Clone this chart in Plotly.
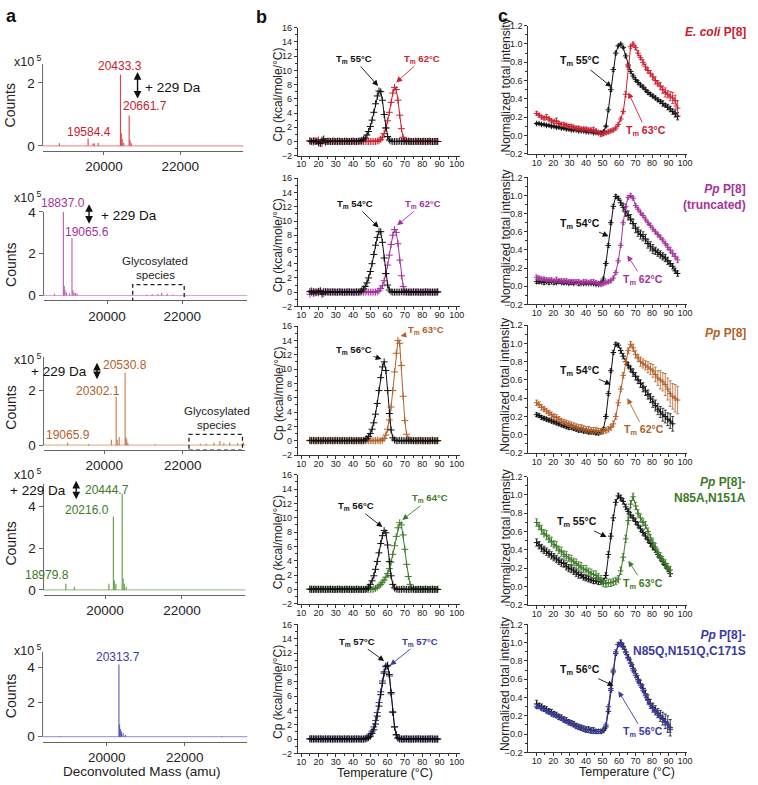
import plotly.graph_objects as go

W, H = 758, 785
FONT = "Liberation Sans, Arial, sans-serif"

# ---------------- panel a : deconvoluted mass spectra (counts x 1e5) ----------------
A_WINDOW = [18200, 23800]            # acquired mass window (baseline)
A1_MASS = [18830, 19584.4, 19715, 19745, 19850, 20433.3, 20455, 20480, 20520, 20661.7, 20685, 20720]
A1_CNT = [0.08, 0.23, 0.07, 0.08, 0.09, 2.26, 0.40, 0.22, 0.10, 0.96, 0.18, 0.08]
A2_MASS = [18600, 18837.0, 18860, 18880, 18920, 19000, 19065.6, 19090, 19120, 19160, 19200,
           21050, 21200, 21350, 21450, 21600, 21750]
A2_CNT = [0.08, 4.0, 0.45, 0.25, 0.15, 0.10, 2.75, 0.25, 0.15, 0.12, 0.08,
          0.05, 0.06, 0.07, 0.12, 0.08, 0.05]
A3_MASS = [19065.9, 19600, 20180, 20302.1, 20330, 20380, 20530.8, 20550, 20570, 20600, 21300,
           22450, 22600, 22800, 22950, 23050, 23200, 23400, 23550]
A3_CNT = [0.10, 0.04, 0.20, 1.76, 0.20, 0.30, 2.63, 0.30, 0.22, 0.10, 0.03,
          0.05, 0.06, 0.10, 0.15, 0.08, 0.10, 0.08, 0.10]
A4_MASS = [18979.8, 19200, 20100, 20216.0, 20240, 20280, 20444.7, 20470, 20500, 20550]
A4_CNT = [0.30, 0.15, 0.30, 3.50, 0.45, 0.30, 4.60, 0.55, 0.30, 0.15]
A5_MASS = [18800, 20313.7, 20330, 20350, 20380, 20420, 20480, 22950]
A5_CNT = [0.03, 4.19, 0.70, 0.45, 0.30, 0.20, 0.10, 0.04]
GLYCO2 = [20680, 22050]
GLYCO3 = [22160, 23525]

# ---------------- panel b : DSC (Cp, kcal/mole/°C) ----------------
TB = [15, 16, 17, 18, 19, 20, 21, 22, 23, 24, 25, 26, 27, 28, 29, 30, 31, 32, 33, 34,
      35, 36, 37, 38, 39, 40, 41, 42, 43, 44, 45, 46, 47, 48, 49, 50, 51, 52, 53, 54,
      55, 56, 57, 58, 59, 60, 61, 62, 63, 64, 65, 66, 67, 68, 69, 70, 71, 72, 73, 74,
      75, 76, 77, 78, 79, 80, 81, 82, 83, 84, 85, 86, 87, 88, 89]
B1_BLACK = [0.05, 0.00, 0.10, 0.00, 0.05, -0.20, -0.30, 0.20, 0.35, -0.10,
            0.00, 0.05, 0.00, 0.00, 0.05, 0.00, 0.00, 0.05, 0.00, 0.00,
            0.00, 0.05, 0.00, 0.00, 0.00, 0.05, 0.00, 0.00, 0.05, 0.05,
            0.10, 0.30, 0.50, 0.90, 1.40, 2.10, 3.00, 4.10, 5.30, 6.40,
            7.10, 7.00, 5.80, 3.80, 1.90, 0.70, 0.20, 0.05, 0.00, 0.00,
            0.00, 0.00, 0.05, 0.00, 0.00, 0.00, 0.00, 0.05, 0.00, 0.00,
            0.00, 0.00, 0.00, 0.05, 0.00, 0.00, 0.00, 0.00, 0.00, 0.05,
            0.00, 0.00, 0.00, 0.00, 0.00]
B1_COL = [0.10, 0.00, -0.10, 0.10, 0.00, 0.20, -0.20, -0.30, 0.10, 0.00,
          0.05, 0.00, 0.00, 0.05, 0.00, 0.00, 0.05, 0.00, 0.00, 0.00,
          0.05, 0.00, 0.00, 0.00, 0.05, 0.00, 0.00, 0.00, 0.00, 0.05,
          0.00, 0.00, 0.00, 0.00, 0.00, 0.00, 0.00, 0.00, 0.00, 0.05,
          0.10, 0.30, 0.60, 1.10, 1.90, 2.90, 4.10, 5.50, 6.80, 7.60,
          7.30, 5.80, 3.70, 1.80, 0.60, 0.15, 0.05, 0.00, 0.00, 0.00,
          0.00, 0.05, 0.00, 0.00, 0.00, 0.00, 0.05, 0.00, 0.00, 0.00,
          0.00, 0.00, 0.00, 0.00, 0.00]
B2_BLACK = [0.10, 0.00, 0.05, -0.10, 0.00, 0.10, 0.20, -0.30, 0.10, 0.00,
            0.05, 0.00, 0.00, 0.05, 0.00, 0.00, 0.00, 0.05, 0.00, 0.00,
            0.00, 0.00, 0.05, 0.00, 0.00, 0.00, 0.00, 0.05, 0.00, 0.05,
            0.20, 0.45, 0.80, 1.30, 2.00, 2.90, 4.00, 5.30, 6.60, 7.70,
            8.50, 8.50, 7.00, 4.80, 2.60, 1.00, 0.30, 0.05, 0.00, 0.00,
            0.00, 0.00, 0.00, 0.05, 0.00, 0.00, 0.00, 0.00, 0.00, 0.00,
            0.05, 0.00, 0.00, 0.00, 0.00, 0.00, 0.00, 0.05, 0.00, 0.00,
            0.00, 0.00, 0.00, 0.00, 0.05]
B2_COL = [-0.30, 0.20, -0.20, 0.10, 0.00, -0.10, 0.10, 0.00, -0.20, 0.10,
          0.00, 0.05, 0.00, 0.00, 0.05, 0.00, 0.00, 0.00, 0.05, 0.00,
          0.00, 0.00, 0.00, 0.05, 0.00, 0.00, 0.00, 0.00, 0.00, 0.00,
          0.00, 0.00, 0.00, 0.05, 0.00, 0.00, 0.00, 0.00, 0.00, 0.05,
          0.20, 0.50, 0.90, 1.60, 2.60, 3.80, 5.20, 6.70, 8.00, 8.80,
          8.40, 6.80, 4.50, 2.30, 0.80, 0.20, 0.05, 0.00, 0.00, 0.00,
          0.00, 0.00, 0.05, 0.00, 0.00, 0.00, 0.00, 0.00, 0.05, 0.00,
          0.00, 0.00, 0.00, 0.00, 0.00]
B3_BLACK = [0.05, 0.00, 0.05, 0.00, 0.00, 0.05, 0.00, 0.00, 0.05, 0.00,
            0.00, 0.05, 0.00, 0.00, 0.00, 0.05, 0.00, 0.00, 0.00, 0.05,
            0.00, 0.00, 0.00, 0.05, 0.00, 0.00, 0.00, 0.00, 0.05, 0.00,
            0.00, 0.00, 0.10, 0.30, 0.60, 1.00, 1.60, 2.50, 3.70, 5.20,
            7.00, 8.80, 10.30, 11.00, 9.80, 7.00, 3.80, 1.50, 0.40, 0.10,
            0.00, 0.00, 0.05, 0.00, 0.00, 0.00, 0.00, 0.00, 0.05, 0.00,
            0.00, 0.00, 0.00, 0.00, 0.05, 0.00, 0.00, 0.00, 0.00, 0.00,
            0.00, 0.05, 0.00, 0.00, 0.00]
B3_COL = [0.00, 0.05, 0.00, 0.00, 0.05, 0.00, 0.00, 0.00, 0.05, 0.00,
          0.00, 0.00, 0.05, 0.00, 0.00, 0.00, 0.00, 0.05, 0.00, 0.00,
          0.00, 0.00, 0.00, 0.00, 0.05, 0.00, 0.00, 0.00, 0.00, 0.00,
          0.00, 0.00, 0.00, 0.00, 0.00, 0.00, 0.00, 0.00, 0.00, 0.05,
          0.00, 0.00, 0.10, 0.30, 0.80, 1.60, 2.90, 4.70, 7.00, 9.60,
          12.20, 14.00, 13.60, 10.50, 6.20, 2.80, 0.90, 0.20, 0.05, 0.00,
          0.00, 0.00, 0.00, 0.05, 0.00, 0.00, 0.00, 0.00, 0.00, 0.00,
          0.05, 0.00, 0.00, 0.00, 0.00]
B4_BLACK = [0.05, 0.00, 0.00, 0.05, 0.00, 0.00, 0.00, 0.05, 0.00, 0.00,
            0.00, 0.00, 0.05, 0.00, 0.00, 0.00, 0.00, 0.05, 0.00, 0.00,
            0.00, 0.05, 0.00, 0.00, 0.00, 0.00, 0.00, 0.05, 0.00, 0.00,
            0.00, 0.00, 0.00, 0.10, 0.30, 0.70, 1.20, 1.90, 2.80, 3.90,
            5.10, 6.40, 7.50, 8.20, 7.90, 6.20, 3.90, 1.90, 0.70, 0.20,
            0.05, 0.00, 0.00, 0.00, 0.05, 0.00, 0.00, 0.00, 0.00, 0.00,
            0.05, 0.00, 0.00, 0.00, 0.00, 0.00, 0.00, 0.05, 0.00, 0.00,
            0.00, 0.00, 0.00, 0.00, 0.00]
B4_COL = [0.00, 0.05, 0.00, 0.00, 0.00, 0.05, 0.00, 0.00, 0.00, 0.00,
          0.05, 0.00, 0.00, 0.00, 0.00, 0.00, 0.05, 0.00, 0.00, 0.00,
          0.00, 0.00, 0.00, 0.05, 0.00, 0.00, 0.00, 0.00, 0.00, 0.00,
          0.00, 0.00, 0.00, 0.00, 0.00, 0.00, 0.00, 0.05, 0.15, 0.30,
          0.50, 0.70, 1.00, 1.30, 1.70, 2.20, 2.90, 3.80, 4.90, 6.10,
          7.40, 8.60, 9.30, 9.00, 7.60, 5.60, 3.50, 1.80, 0.70, 0.20,
          0.05, 0.00, 0.00, 0.00, 0.05, 0.00, 0.00, 0.00, 0.00, 0.00,
          0.00, 0.05, 0.00, 0.00, 0.00]
B5_BLACK = [0.05, 0.00, 0.00, 0.05, 0.00, 0.00, 0.05, 0.00, 0.00, 0.00,
            0.00, 0.05, 0.00, 0.00, 0.00, 0.00, 0.00, 0.05, 0.00, 0.00,
            0.00, 0.00, 0.05, 0.00, 0.00, 0.00, 0.00, 0.00, 0.05, 0.00,
            0.00, 0.00, 0.00, 0.10, 0.20, 0.40, 0.80, 1.30, 2.10, 3.20,
            4.60, 6.20, 7.80, 9.20, 10.10, 10.30, 9.00, 6.50, 3.80, 1.70,
            0.60, 0.15, 0.05, 0.00, 0.00, 0.00, 0.05, 0.00, 0.00, 0.00,
            0.00, 0.00, 0.00, 0.05, 0.00, 0.00, 0.00, 0.00, 0.00, 0.00,
            0.05, 0.00, 0.00, 0.00, 0.00]
B5_COL = [0.00, 0.05, 0.00, 0.00, 0.00, 0.05, 0.00, 0.00, 0.00, 0.05,
          0.00, 0.00, 0.00, 0.00, 0.05, 0.00, 0.00, 0.00, 0.00, 0.00,
          0.05, 0.00, 0.00, 0.00, 0.00, 0.00, 0.05, 0.00, 0.00, 0.00,
          0.00, 0.00, 0.10, 0.20, 0.40, 0.70, 1.10, 1.70, 2.60, 3.70,
          5.10, 6.60, 8.10, 9.40, 10.20, 10.20, 8.80, 6.30, 3.70, 1.70,
          0.60, 0.15, 0.00, 0.00, 0.00, 0.05, 0.00, 0.00, 0.00, 0.00,
          0.00, 0.00, 0.05, 0.00, 0.00, 0.00, 0.00, 0.00, 0.00, 0.05,
          0.00, 0.00, 0.00, 0.00, 0.00]

# ---------------- panel c : normalized total intensity ----------------
TC = [10, 11.5, 13, 14.5, 16, 17.5, 19, 20.5, 22, 23.5, 25, 26.5, 28, 29.5, 31, 32.5, 34, 35.5,
      37, 38.5, 40, 41.5, 43, 44.5, 46, 47.5, 49, 50.5, 52, 53.5, 55, 56.5, 58, 59.5, 61, 62.5,
      64, 65.5, 67, 68.5, 70, 71.5, 73, 74.5, 76, 77.5, 79, 80.5, 82, 83.5, 85, 86.5, 88, 89.5,
      91, 92.5, 94, 95.5]
C1_BLACK = [0.13, 0.13, 0.12, 0.12, 0.11, 0.11, 0.10, 0.10, 0.09, 0.09, 0.08, 0.08, 0.07, 0.07,
            0.06, 0.06, 0.06, 0.05, 0.05, 0.05, 0.04, 0.04, 0.04, 0.03, 0.03, 0.03, 0.03, 0.04,
            0.10, 0.28, 0.50, 0.72, 0.90, 0.98, 1.00, 0.96, 0.87, 0.77, 0.70, 0.65, 0.61, 0.58,
            0.55, 0.53, 0.50, 0.47, 0.45, 0.43, 0.41, 0.39, 0.37, 0.35, 0.33, 0.31, 0.29, 0.26,
            0.24, 0.21]
C1_BLACK_ERR = [0.01, 0.01, 0.01, 0.01, 0.01, 0.01, 0.01, 0.01, 0.01, 0.01, 0.01, 0.01, 0.01, 0.01,
                0.01, 0.01, 0.01, 0.01, 0.01, 0.01, 0.01, 0.01, 0.01, 0.01, 0.01, 0.01, 0.01, 0.01,
                0.01, 0.02, 0.02, 0.02, 0.02, 0.01, 0.01, 0.01, 0.02, 0.02, 0.02, 0.02, 0.02, 0.02,
                0.02, 0.02, 0.02, 0.02, 0.02, 0.02, 0.02, 0.02, 0.02, 0.03, 0.02, 0.03, 0.03, 0.03,
                0.04, 0.04]
C1_COL = [0.24, 0.22, 0.20, 0.19, 0.20, 0.18, 0.16, 0.15, 0.16, 0.13, 0.12, 0.12, 0.11, 0.10,
          0.10, 0.09, 0.08, 0.08, 0.07, 0.07, 0.07, 0.06, 0.06, 0.06, 0.05, 0.03, 0.01, 0.02,
          0.03, 0.04, 0.05, 0.06, 0.08, 0.12, 0.18, 0.26, 0.45, 0.75, 0.97, 1.00, 0.96, 0.90,
          0.85, 0.80, 0.75, 0.71, 0.68, 0.64, 0.60, 0.57, 0.54, 0.50, 0.47, 0.45, 0.43, 0.41,
          0.38, 0.30]
C1_COL_ERR = [0.02, 0.02, 0.02, 0.02, 0.03, 0.02, 0.02, 0.02, 0.03, 0.02, 0.02, 0.02, 0.02, 0.02,
              0.02, 0.02, 0.02, 0.02, 0.02, 0.02, 0.02, 0.02, 0.02, 0.03, 0.02, 0.02, 0.02, 0.02,
              0.02, 0.02, 0.02, 0.02, 0.02, 0.02, 0.02, 0.02, 0.03, 0.03, 0.02, 0.02, 0.02, 0.03,
              0.02, 0.03, 0.03, 0.03, 0.03, 0.03, 0.04, 0.03, 0.04, 0.04, 0.05, 0.04, 0.05, 0.06,
              0.06, 0.08]
C2_BLACK = [0.05, 0.05, 0.05, 0.04, 0.05, 0.04, 0.05, 0.04, 0.04, 0.05, 0.04, 0.04, 0.04, 0.03,
            0.04, 0.03, 0.04, 0.03, 0.03, 0.03, 0.03, 0.03, 0.03, 0.03, 0.02, 0.02, 0.04, 0.08,
            0.25, 0.45, 0.70, 0.88, 0.99, 0.97, 0.92, 0.87, 0.82, 0.78, 0.74, 0.69, 0.64, 0.60,
            0.57, 0.55, 0.52, 0.47, 0.44, 0.41, 0.39, 0.37, 0.35, 0.33, 0.31, 0.28, 0.25, 0.22,
            0.17, 0.14]
C2_BLACK_ERR = [0.02, 0.02, 0.01, 0.02, 0.01, 0.02, 0.01, 0.02, 0.01, 0.02, 0.01, 0.02, 0.01, 0.01,
                0.02, 0.01, 0.01, 0.02, 0.01, 0.01, 0.01, 0.01, 0.01, 0.01, 0.01, 0.01, 0.01, 0.02,
                0.02, 0.02, 0.02, 0.02, 0.02, 0.02, 0.03, 0.04, 0.05, 0.05, 0.05, 0.05, 0.05, 0.05,
                0.05, 0.05, 0.05, 0.05, 0.05, 0.05, 0.04, 0.04, 0.04, 0.04, 0.04, 0.04, 0.03, 0.03,
                0.03, 0.03]
C2_COL = [0.10, 0.09, 0.08, 0.08, 0.07, 0.07, 0.07, 0.06, 0.07, 0.06, 0.06, 0.06, 0.06, 0.05,
          0.05, 0.05, 0.05, 0.05, 0.04, 0.05, 0.05, 0.04, 0.05, 0.05, 0.04, 0.03, 0.02, 0.03,
          0.04, 0.05, 0.06, 0.09, 0.15, 0.28, 0.45, 0.70, 0.88, 0.98, 1.00, 0.97, 0.89, 0.85,
          0.81, 0.78, 0.74, 0.70, 0.67, 0.63, 0.60, 0.57, 0.54, 0.51, 0.47, 0.43, 0.40, 0.36,
          0.33, 0.29]
C2_COL_ERR = [0.02, 0.02, 0.02, 0.02, 0.02, 0.02, 0.02, 0.02, 0.03, 0.02, 0.02, 0.02, 0.02, 0.02,
              0.02, 0.02, 0.02, 0.02, 0.02, 0.02, 0.02, 0.02, 0.02, 0.02, 0.02, 0.02, 0.02, 0.02,
              0.02, 0.02, 0.02, 0.02, 0.02, 0.02, 0.02, 0.02, 0.02, 0.02, 0.02, 0.02, 0.02, 0.02,
              0.02, 0.02, 0.02, 0.02, 0.02, 0.02, 0.02, 0.02, 0.02, 0.02, 0.02, 0.03, 0.03, 0.03,
              0.03, 0.03]
C3_BLACK = [0.22, 0.21, 0.19, 0.18, 0.17, 0.16, 0.15, 0.14, 0.13, 0.12, 0.11, 0.10, 0.09, 0.08,
            0.08, 0.07, 0.06, 0.05, 0.05, 0.04, 0.04, 0.03, 0.03, 0.03, 0.02, 0.02, 0.03, 0.06,
            0.20, 0.45, 0.70, 0.90, 0.99, 0.98, 0.92, 0.86, 0.80, 0.76, 0.72, 0.68, 0.64, 0.60,
            0.56, 0.52, 0.48, 0.44, 0.40, 0.36, 0.32, 0.28, 0.25, 0.22, 0.20, 0.17, 0.15, 0.12]
C3_BLACK_ERR = [0.02, 0.02, 0.02, 0.02, 0.02, 0.02, 0.02, 0.02, 0.02, 0.02, 0.02, 0.02, 0.02, 0.02,
                0.02, 0.02, 0.02, 0.02, 0.02, 0.02, 0.02, 0.02, 0.02, 0.02, 0.02, 0.02, 0.02, 0.02,
                0.02, 0.02, 0.02, 0.02, 0.02, 0.02, 0.03, 0.03, 0.03, 0.03, 0.03, 0.04, 0.04, 0.04,
                0.04, 0.05, 0.05, 0.05, 0.05, 0.06, 0.06, 0.06, 0.06, 0.07, 0.07, 0.07, 0.08, 0.08]
C3_COL = [0.35, 0.33, 0.30, 0.28, 0.26, 0.24, 0.22, 0.20, 0.19, 0.17, 0.15, 0.14, 0.13, 0.12,
          0.11, 0.10, 0.09, 0.08, 0.08, 0.07, 0.06, 0.06, 0.05, 0.05, 0.05, 0.04, 0.04, 0.04,
          0.05, 0.06, 0.08, 0.12, 0.20, 0.35, 0.50, 0.65, 0.80, 0.92, 0.99, 0.95, 0.88, 0.84,
          0.80, 0.78, 0.76, 0.74, 0.72, 0.70, 0.66, 0.62, 0.60, 0.58, 0.55, 0.50, 0.45, 0.42,
          0.40, 0.38]
C3_COL_ERR = [0.03, 0.03, 0.03, 0.03, 0.03, 0.03, 0.03, 0.03, 0.03, 0.03, 0.03, 0.03, 0.03, 0.03,
              0.03, 0.03, 0.03, 0.03, 0.03, 0.03, 0.03, 0.03, 0.03, 0.03, 0.03, 0.03, 0.03, 0.03,
              0.03, 0.03, 0.03, 0.03, 0.03, 0.03, 0.03, 0.03, 0.03, 0.03, 0.03, 0.04, 0.04, 0.04,
              0.05, 0.05, 0.05, 0.06, 0.06, 0.07, 0.08, 0.08, 0.10, 0.10, 0.12, 0.12, 0.14, 0.14,
              0.15, 0.15]
C4_BLACK = [0.48, 0.45, 0.42, 0.40, 0.38, 0.36, 0.34, 0.32, 0.30, 0.28, 0.26, 0.25, 0.22, 0.20,
            0.19, 0.17, 0.15, 0.13, 0.12, 0.10, 0.09, 0.08, 0.07, 0.06, 0.06, 0.05, 0.05, 0.06,
            0.12, 0.35, 0.55, 0.75, 0.92, 0.99, 0.97, 0.93, 0.87, 0.82, 0.78, 0.75, 0.71, 0.67,
            0.63, 0.59, 0.55, 0.51, 0.47, 0.43, 0.40, 0.35, 0.31, 0.27, 0.23, 0.19, 0.14]
C4_BLACK_ERR = [0.04, 0.04, 0.04, 0.04, 0.04, 0.04, 0.04, 0.04, 0.04, 0.04, 0.04, 0.04, 0.04, 0.04,
                0.04, 0.04, 0.04, 0.04, 0.03, 0.03, 0.03, 0.03, 0.03, 0.03, 0.03, 0.03, 0.03, 0.03,
                0.03, 0.03, 0.03, 0.03, 0.03, 0.03, 0.03, 0.03, 0.03, 0.03, 0.03, 0.03, 0.03, 0.03,
                0.03, 0.03, 0.03, 0.03, 0.03, 0.03, 0.03, 0.03, 0.03, 0.03, 0.03, 0.03, 0.03]
C4_COL = [0.70, 0.66, 0.62, 0.58, 0.56, 0.52, 0.49, 0.46, 0.44, 0.40, 0.38, 0.35, 0.33, 0.31,
          0.29, 0.27, 0.25, 0.23, 0.21, 0.19, 0.18, 0.16, 0.14, 0.13, 0.12, 0.10, 0.07, 0.04,
          0.03, 0.04, 0.04, 0.05, 0.06, 0.08, 0.17, 0.32, 0.52, 0.72, 0.90, 0.98, 0.88, 0.80,
          0.75, 0.70, 0.67, 0.60, 0.53, 0.48, 0.43, 0.37, 0.33, 0.29, 0.25, 0.21, 0.18]
C4_COL_ERR = [0.04, 0.04, 0.05, 0.04, 0.05, 0.04, 0.05, 0.04, 0.05, 0.04, 0.05, 0.04, 0.05, 0.04,
              0.05, 0.04, 0.05, 0.04, 0.05, 0.04, 0.05, 0.04, 0.05, 0.04, 0.05, 0.04, 0.05, 0.04,
              0.04, 0.04, 0.04, 0.04, 0.04, 0.04, 0.04, 0.04, 0.04, 0.04, 0.04, 0.04, 0.04, 0.04,
              0.04, 0.04, 0.04, 0.04, 0.04, 0.04, 0.04, 0.04, 0.04, 0.04, 0.04, 0.04, 0.04]
C5_BLACK = [0.33, 0.31, 0.30, 0.28, 0.27, 0.25, 0.24, 0.22, 0.21, 0.19, 0.18, 0.16, 0.15, 0.13,
            0.12, 0.11, 0.09, 0.08, 0.07, 0.06, 0.05, 0.05, 0.04, 0.04, 0.03, 0.03, 0.03, 0.04,
            0.08, 0.25, 0.48, 0.68, 0.88, 0.98, 1.00, 0.96, 0.90, 0.84, 0.78, 0.72, 0.66, 0.60,
            0.55, 0.50, 0.44, 0.38, 0.33, 0.29, 0.26, 0.23, 0.20, 0.17, 0.14, 0.11, 0.07]
C5_BLACK_ERR = [0.04, 0.03, 0.03, 0.03, 0.03, 0.03, 0.03, 0.03, 0.03, 0.03, 0.03, 0.03, 0.03, 0.03,
                0.03, 0.03, 0.03, 0.03, 0.03, 0.03, 0.03, 0.03, 0.03, 0.03, 0.02, 0.02, 0.02, 0.02,
                0.02, 0.02, 0.02, 0.02, 0.02, 0.02, 0.03, 0.03, 0.03, 0.03, 0.04, 0.04, 0.04, 0.04,
                0.04, 0.04, 0.04, 0.05, 0.05, 0.05, 0.05, 0.05, 0.06, 0.07, 0.08, 0.09, 0.09]
C5_COL = [0.30, 0.30, 0.28, 0.27, 0.25, 0.24, 0.22, 0.21, 0.20, 0.18, 0.17, 0.16, 0.14, 0.13,
          0.12, 0.10, 0.09, 0.08, 0.07, 0.06, 0.05, 0.04, 0.04, 0.03, 0.03, 0.03, 0.03, 0.05,
          0.10, 0.30, 0.50, 0.70, 0.90, 0.98, 0.99, 0.95, 0.89, 0.83, 0.77, 0.70, 0.64, 0.58,
          0.53, 0.48, 0.42, 0.37, 0.32, 0.28, 0.25, 0.22, 0.19, 0.16, 0.13, 0.10, 0.05]
C5_COL_ERR = [0.02, 0.02, 0.02, 0.02, 0.02, 0.02, 0.02, 0.02, 0.02, 0.02, 0.02, 0.02, 0.02, 0.02,
              0.02, 0.02, 0.02, 0.02, 0.02, 0.02, 0.02, 0.02, 0.02, 0.02, 0.02, 0.02, 0.02, 0.02,
              0.02, 0.02, 0.02, 0.02, 0.02, 0.02, 0.02, 0.02, 0.02, 0.02, 0.02, 0.02, 0.02, 0.02,
              0.02, 0.02, 0.02, 0.02, 0.02, 0.02, 0.02, 0.02, 0.02, 0.03, 0.03, 0.03, 0.03]

TM_B = [("55", "62"), ("54", "62"), ("56", "63"), ("56", "64"), ("57", "57")]
TM_C = [("55", "63"), ("54", "62"), ("54", "62"), ("55", "63"), ("56", "56")]
SAMPLE_TITLES = ["<b><i>E. coli</i> P[8]</b>", "<b><i>Pp</i> P[8]<br>(truncated)</b>",
                 "<b><i>Pp</i> P[8]</b>", "<b><i>Pp</i> P[8]-<br>N85A,N151A</b>",
                 "<b><i>Pp</i> P[8]-<br>N85Q,N151Q,C171S</b>"]

# ---------------- styling / layout ----------------
COLS = ["#c8202f", "#a4339a", "#b3612a", "#3c7a28", "#3b3b9e"]
SPEC_COLS = ["#d9424c", "#c257b6", "#c97a44", "#5e9c40", "#5858b8"]
BLACK = "#111111"

fig = go.Figure()
layout = dict(width=W, height=H, margin=dict(l=0, r=0, t=0, b=0, pad=0),
              paper_bgcolor="white", plot_bgcolor="white", showlegend=False,
              font=dict(family=FONT, color="#222"))
annotations, shapes = [], []


def axn(k, t):
    return f"{t}axis" if k == 1 else f"{t}axis{k}"


def ref(k, t):
    return t if k == 1 else f"{t}{k}"


def ptext(x, y, text, size, color="#222", angle=0, xanchor="center", yanchor="middle", align="center"):
    annotations.append(dict(x=x / W, y=1 - y / H, xref="paper", yref="paper", text=text, showarrow=False,
                            textangle=angle, xanchor=xanchor, yanchor=yanchor, align=align,
                            font=dict(size=size, color=color, family=FONT)))


def dom(l, r, t, b):
    return [l / W, r / W], [1 - b / H, 1 - t / H]


# panel a boxes: left, right, top, bottom(px), zero line px, px per 1e5, x range
A_BOX = [(41, 244, 58, 146, 141, 32.0, [18390, 23660]),
         (42, 248, 208, 298, 293, 21.25, [18310, 23730]),
         (42, 246, 355, 450, 445, 28.0, [18450, 23600]),
         (42, 246, 484, 597, 592, 21.25, [18400, 23650]),
         (41, 248, 655, 746, 741, 17.5, [18360, 23600])]
A_TICKS = [[0, 2], [0, 2, 4], [0, 2], [0, 2, 4], [0, 2, 4]]
B_ROWS = [(21, 151), (174, 304), (324, 455), (475, 606), (627, 758)]
C_ROWS = [(19, 149), (173, 302), (323, 453), (477, 607), (627, 757)]

spectra = [(A1_MASS, A1_CNT), (A2_MASS, A2_CNT), (A3_MASS, A3_CNT), (A4_MASS, A4_CNT), (A5_MASS, A5_CNT)]
dsc = [(B1_BLACK, B1_COL), (B2_BLACK, B2_COL), (B3_BLACK, B3_COL), (B4_BLACK, B4_COL), (B5_BLACK, B5_COL)]
cint = [(C1_BLACK, C1_BLACK_ERR, C1_COL, C1_COL_ERR), (C2_BLACK, C2_BLACK_ERR, C2_COL, C2_COL_ERR),
        (C3_BLACK, C3_BLACK_ERR, C3_COL, C3_COL_ERR), (C4_BLACK, C4_BLACK_ERR, C4_COL, C4_COL_ERR),
        (C5_BLACK, C5_BLACK_ERR, C5_COL, C5_COL_ERR)]

common = dict(showgrid=False, zeroline=False, showline=True, linecolor="#333", linewidth=1,
              ticks="outside", ticklen=3, tickcolor="#333", tickfont=dict(size=9, color="#222"))
xminor = dict(tickvals=[15, 25, 35, 45, 55, 65, 75, 85, 95], ticklen=2, ticks="outside", tickcolor="#333")

for r in range(5):
    # ---------- panel a ----------
    k = 3 * r + 1
    l, rr, t, b, z, s, xr = A_BOX[r]
    xd, yd = dom(l, rr, t, b)
    ytop = (z - t) / s
    layout[axn(k, "x")] = dict(domain=xd, range=xr, anchor=ref(k, "y"), showgrid=False, zeroline=False,
                               showline=True, linecolor="#666", linewidth=1, ticks="outside", ticklen=3,
                               tickcolor="#666", tickvals=[20000, 22000], tickformat="d",
                               tickfont=dict(size=13.5, color="#222"))
    layout[axn(k, "y")] = dict(domain=yd, range=[(z - b) / s, ytop], anchor=ref(k, "x"), showgrid=False,
                               zeroline=False, showline=False, ticks="outside", ticklen=4, tickcolor="#666",
                               tickvals=A_TICKS[r], tickfont=dict(size=13.5, color="#222"))
    shapes.append(dict(type="line", xref=ref(k, "x") + " domain", yref=ref(k, "y"), x0=0, x1=0,
                       y0=0, y1=ytop, line=dict(color="#666", width=1)))
    mass, cnt = spectra[r]
    fig.add_trace(go.Scatter(x=A_WINDOW, y=[0, 0], mode="lines", xaxis=ref(k, "x"), yaxis=ref(k, "y"),
                             line=dict(color=SPEC_COLS[r], width=1.2), opacity=0.55, hoverinfo="skip"))
    xs, ys = [], []
    for m, c in zip(mass, cnt):
        xs += [m, m, None]
        ys += [0, c, None]
    fig.add_trace(go.Scatter(x=xs, y=ys, mode="lines", xaxis=ref(k, "x"), yaxis=ref(k, "y"),
                             line=dict(color=SPEC_COLS[r], width=1.1)))

    # ---------- panel b ----------
    k = 3 * r + 2
    t, b = B_ROWS[r]
    xd, yd = dom(299, 463, t, b)
    layout[axn(k, "x")] = dict(domain=xd, range=[8, 102], anchor=ref(k, "y"), ticklabelstandoff=-3,
                               tickvals=[10, 20, 30, 40, 50, 60, 70, 80, 90, 100], minor=xminor, **common)
    layout[axn(k, "y")] = dict(domain=yd, range=[-2, 16], anchor=ref(k, "x"),
                               tickvals=[-2, 0, 2, 4, 6, 8, 10, 12, 14, 16],
                               minor=dict(tickvals=[-1, 1, 3, 5, 7, 9, 11, 13, 15], ticklen=2, ticks="outside",
                                          tickcolor="#333"), **common)
    blk, col = dsc[r]
    for vals, c in ((col, COLS[r]), (blk, BLACK)):
        fig.add_trace(go.Scatter(x=TB, y=vals, mode="lines+markers", xaxis=ref(k, "x"), yaxis=ref(k, "y"),
                                 line=dict(color=c, width=1),
                                 marker=dict(symbol="cross-thin", size=5, line=dict(color=c, width=1))))

    # ---------- panel c ----------
    k = 3 * r + 3
    t, b = C_ROWS[r]
    xd, yd = dom(532, 692, t, b)
    layout[axn(k, "x")] = dict(domain=xd, range=[5, 101], anchor=ref(k, "y"), ticklabelstandoff=-3,
                               tickvals=[10, 20, 30, 40, 50, 60, 70, 80, 90, 100], minor=xminor, **common)
    layout[axn(k, "y")] = dict(domain=yd, range=[-0.2, 1.2], anchor=ref(k, "x"),
                               tickvals=[-0.2, 0, 0.2, 0.4, 0.6, 0.8, 1.0, 1.2], tickformat=".1f",
                               minor=dict(tickvals=[-0.1, 0.1, 0.3, 0.5, 0.7, 0.9, 1.1], ticklen=2,
                                          ticks="outside", tickcolor="#333"), **common)
    blk, blk_e, col, col_e = cint[r]
    for vals, err, c in ((blk, blk_e, BLACK), (col, col_e, COLS[r])):
        fig.add_trace(go.Scatter(x=TC[:len(vals)], y=vals, mode="lines+markers", xaxis=ref(k, "x"),
                                 yaxis=ref(k, "y"), line=dict(color=c, width=1),
                                 marker=dict(symbol="cross-thin", size=4, line=dict(color=c, width=1)),
                                 error_y=dict(type="data", array=err, color=c, thickness=0.8, width=1.5)))

# ---------------- Tm annotations (arrow head at curve, text at tail) ----------------
# (text_x, text_y, head_x, head_y) in data units
B_ARROWS = [((40.5, 11.6, 54.5, 7.8), (80.0, 11.6, 65.0, 8.3)),
            ((41.0, 12.4, 54.8, 9.1), (80.5, 12.4, 65.5, 9.4)),
            ((40.5, 12.6, 56.5, 11.4), (82.0, 15.4, 67.5, 14.6)),
            ((41.5, 11.6, 57.0, 8.7), (84.5, 12.7, 68.5, 9.7)),
            ((42.5, 13.6, 58.0, 10.9), (78.5, 13.6, 61.5, 10.3))]
C_ARROWS = [((36.2, 0.81, 55.4, 0.53), (76.4, 0.05, 65.6, 0.47)),
            ((36.2, 0.69, 53.6, 0.55), (74.6, 0.07, 65.0, 0.34)),
            ((36.2, 0.70, 55.0, 0.55), (75.0, 0.05, 65.0, 0.40)),
            ((34.4, 0.70, 52.4, 0.54), (74.6, 0.03, 65.6, 0.28)),
            ((36.2, 0.70, 56.6, 0.53), (74.6, 0.02, 59.6, 0.47))]

for r in range(5):
    for col_i, (arrows, tms, fs) in ((2, (B_ARROWS, TM_B, 9.5)), (3, (C_ARROWS, TM_C, 10.5))):
        k = 3 * r + col_i
        for j, (tx, ty, hx, hy) in enumerate(arrows[r]):
            c = BLACK if j == 0 else COLS[r]
            annotations.append(dict(x=hx, y=hy, ax=tx, ay=ty, xref=ref(k, "x"), yref=ref(k, "y"),
                                    axref=ref(k, "x"), ayref=ref(k, "y"), showarrow=True,
                                    xanchor="center", yanchor="middle",
                                    text=f"<b>T<sub>m</sub> {tms[r][j]}°C</b>",
                                    font=dict(size=fs, color=c, family=FONT), arrowcolor=c,
                                    arrowhead=2, arrowsize=1.3, arrowwidth=0.9, standoff=0))

# sample titles (right side)
TITLE_Y = [25, 193, 331, 491, 646]
for r in range(5):
    ptext(754, TITLE_Y[r], SAMPLE_TITLES[r], 12, COLS[r], xanchor="right", align="right")

# panel a texts (pixel positions)
A_TEXT = [
    [("20433.3", 119, 60), ("20661.7", 145, 101), ("19584.4", 88, 127)],
    [("18837.0", 62, 199), ("19065.6", 86, 228)],
    [("20530.8", 124, 364), ("20302.1", 97, 390), ("19065.9", 67, 435)],
    [("20444.7", 106, 490), ("20216.0", 86, 511), ("18979.8", 45, 577)],
    [("20313.7", 117, 660)],
]
for r in range(5):
    for txt, x, y in A_TEXT[r]:
        ptext(x, y, txt, 12, COLS[r])
X10_Y = [55, 193, 357, 474, 653]
COUNTS_Y = [100, 262, 407, 545, 700]
for r in range(5):
    ptext(10, X10_Y[r], "x10<sup> 5</sup>", 12.5, xanchor="left")
    ptext(9, COUNTS_Y[r], "Counts", 14, angle=-90)

# +229 Da double arrows: (x, top, bottom, text_x, text_y, anchor)
DA = [(137, 65, 93, 143, 82, "left"), (88, 199, 220, 98, 212, "left"), (96, 360, 378, 88, 370, "right"),
      (75, 480, 500, 67, 491, "right")]
for x, t, b, tx, ty, anc in DA:
    annotations.append(dict(x=x / W, y=1 - b / H, xref="paper", yref="paper", ax=0, ay=-(b - t),
                            text="", showarrow=True, arrowside="end+start", arrowhead=2, arrowsize=1.1,
                            arrowwidth=1.4, arrowcolor="#111"))
    ptext(tx, ty, "+ 229 Da", 13.5, "#111", xanchor=anc)

# glycosylated species boxes
for k, rng, y0, y1, tx, ty in ((4, GLYCO2, -0.28, 0.52, 155, 258), (7, GLYCO3, -0.18, 0.39, 217, 410)):
    shapes.append(dict(type="rect", xref=ref(k, "x"), yref=ref(k, "y"), x0=rng[0], x1=rng[1], y0=y0, y1=y1,
                       line=dict(color="#222", width=1.3, dash="4px,3px")))
    ptext(tx, ty, "Glycosylated", 11.5)
    ptext(tx, ty + 14, "species", 11.5)

# axis titles
for r in range(5):
    t, b = B_ROWS[r]
    ptext(279, (t + b) / 2 + 3, "Cp (kcal/mole/°C)", 12, angle=-90)
    t, b = C_ROWS[r]
    ptext(509, (t + b) / 2 - 4, "Normalized total intensity", 12, angle=-90)
ptext(387, 778, "Temperature (°C)", 12.5)
ptext(632, 777, "Temperature (°C)", 12.5)
ptext(141, 776, "Deconvoluted Mass (amu)", 13.5)
for lab, x, y in (("a", 10, 9), ("b", 262, 10), ("c", 506, 9)):
    ptext(x, y, f"<b>{lab}</b>", 18, "#111")

layout["annotations"] = annotations
layout["shapes"] = shapes
fig.update_layout(**layout)
fig.write_html("out.html", config={"displayModeBar": False},
               post_script="document.body.style.margin='0';document.body.style.padding='0';")
